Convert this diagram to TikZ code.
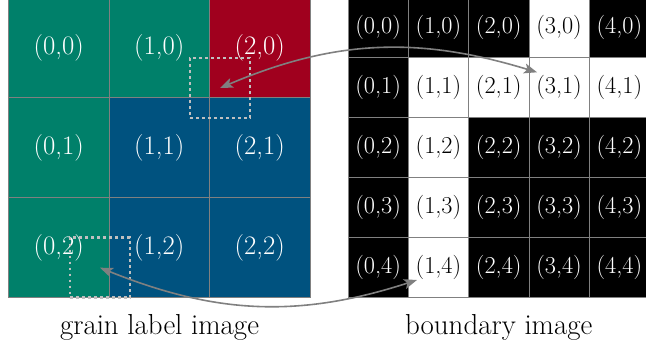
\documentclass[tikz,border=0pt]{standalone}
\usetikzlibrary{arrows.meta,calc}
\definecolor{grn}{HTML}{00806A}
\definecolor{blu}{HTML}{00527F}
\definecolor{rd}{HTML}{A0001E}
\definecolor{gridgray}{HTML}{808080}
\definecolor{dotgray}{HTML}{C0C0C0}
\definecolor{arrgray}{HTML}{808080}
\begin{document}
\begin{tikzpicture}[x=1pt,y=-1pt,
  bigcell/.style={minimum width=100.5pt,minimum height=100pt,inner sep=0pt,outer sep=0pt,draw=gridgray,line width=0.8pt,text=white,font=\fontsize{26.7}{32}\selectfont},
  smallcell/.style={minimum width=60.3pt,minimum height=60pt,inner sep=0pt,outer sep=0pt,draw=gridgray,line width=0.8pt,font=\fontsize{24.3}{29}\selectfont},
  blk/.style={smallcell,fill=black,text=white},
  wht/.style={smallcell,fill=white,text=black},
  dotsq/.style={draw=dotgray,line width=2.6pt,dash pattern=on 2.6pt off 3.4pt,minimum width=60pt,minimum height=60pt,inner sep=0pt,outer sep=0pt},
  link/.style={draw=arrgray,line width=1.6pt,{Stealth[length=13pt,width=10pt,inset=3pt]}-{Stealth[length=13pt,width=10pt,inset=3pt]}},
  caption/.style={font=\fontsize{28.9}{34}\selectfont,anchor=base}]
\useasboundingbox (0,0) rectangle (646,349);
\clip (0,0) rectangle (646,349);
% grain label image
\foreach \i/\j/\c in {0/0/grn,1/0/grn,2/0/rd,0/1/grn,1/1/blu,2/1/blu,0/2/grn,1/2/blu,2/2/blu}
  \node[bigcell,fill=\c] (g\i\j) at ({58.75+100.5*\i},{47.7+100*\j}) {(\i,\j)};
% boundary image
\foreach \i/\j/\s in {0/0/blk,1/0/blk,2/0/blk,3/0/wht,4/0/blk,
                      0/1/blk,1/1/wht,2/1/wht,3/1/wht,4/1/wht,
                      0/2/blk,1/2/wht,2/2/blk,3/2/blk,4/2/blk,
                      0/3/blk,1/3/wht,2/3/blk,3/3/blk,4/3/blk,
                      0/4/blk,1/4/wht,2/4/blk,3/4/blk,4/4/blk}
  \node[\s] (b\i\j) at ({378.15+60.3*\i},{27.3+60*\j}) {(\i,\j)};
% dotted windows
\node[dotsq] (sq1) at (220,88) {};
\node[dotsq] (sq2) at (100,267.7) {};
% arrow ends
\coordinate (e1) at ($(b31.center)+(-22,-15)$);
\coordinate (e2) at ($(b14.center)+(-21.5,12.7)$);
\draw[link] (sq1.center) to[out=23,in=163] (e1);
\draw[link] (sq2.center) to[out=-22,in=-162] (e2);
% captions
\node[caption] (c1) at (159.5,334) {grain label image};
\node[caption] (c2) at (498.75,334) {boundary image};
\end{tikzpicture}
\end{document}
